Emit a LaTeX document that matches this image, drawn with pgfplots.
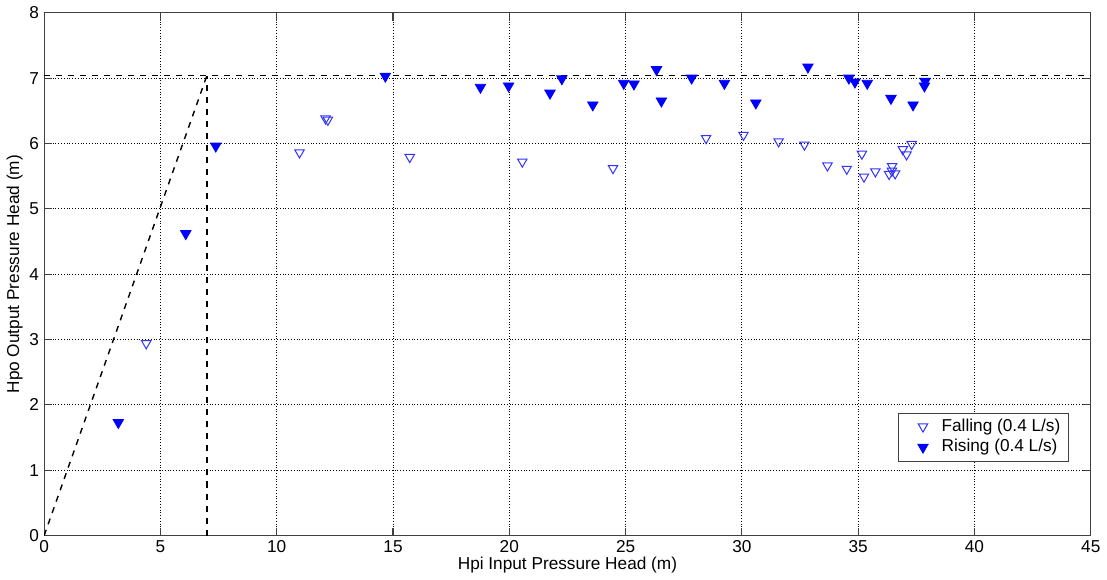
\documentclass[border=0pt]{standalone}
\usepackage{fontspec}
\setmainfont{Liberation Sans}
\usepackage{pgfplots}
\pgfplotsset{compat=1.18}

\begin{document}
\begin{tikzpicture}
\begin{axis}[
  scale only axis,
  width=522.5pt, height=261pt,
  xmin=0, xmax=45, ymin=0, ymax=8,
  xtick={0,5,...,45}, ytick={0,1,...,8},
  grid=major,
  major grid style={black, densely dotted, line width=0.4pt},
  tick align=inside,
  axis line style={draw=black!75, line width=0.6pt},
  tick style={draw=black!75, line width=0.6pt},
  major tick length=4pt,
  /pgf/number format/assume math mode=true,
  tick label style={font=\fontsize{8.6}{10}\selectfont},
  label style={font=\fontsize{8.6}{10}\selectfont},
  xticklabel style={yshift=1pt},
  yticklabel style={xshift=1pt},
  xlabel={Hpi Input Pressure Head (m)},
  ylabel={Hpo Output Pressure Head (m)},
  xlabel style={yshift=5pt},
  ylabel style={yshift=-3.5pt},
  legend style={at={(0.979,0.142)}, anchor=south east, draw=black!75,
    font=\fontsize{8.6}{10}\selectfont, cells={anchor=west},
    inner xsep=2pt, inner ysep=1pt, row sep=-1.5pt},
  legend cell align=left,
  legend image code/.code={
    \path (0cm,0cm) (0.6cm,0cm);
    \draw[#1,mark repeat=2,mark phase=2] plot coordinates {(0.1cm,0cm) (0.35cm,0cm) (0.6cm,0cm)};
  },
]
% reference lines
\addplot[black, dashed, line width=0.7pt, forget plot] coordinates {(0,7.04) (45,7.04)};
\addplot[black, dashed, line width=0.7pt, forget plot] coordinates {(0,0) (7,7.04)};
\addplot[black, dashed, line width=0.7pt, forget plot] coordinates {(7,0) (7,7.04)};

% falling (open)
\addplot[only marks, mark=triangle, mark size=2.7pt,
  mark options={rotate=180, draw=blue!80, line width=0.5pt, fill=none}]
coordinates {
(4.39,2.94) (10.98,5.86) (12.10,6.38) (12.20,6.36) (15.72,5.79) (20.56,5.72)
(24.46,5.62) (28.46,6.08) (30.07,6.13) (31.58,6.03) (32.69,5.98) (33.68,5.66)
(34.51,5.61) (35.16,5.84) (35.25,5.49) (35.74,5.57) (36.46,5.65) (36.33,5.53)
(36.59,5.54) (36.92,5.91) (37.08,5.83) (37.30,5.99) (36.45,5.58)
};
\addlegendentry{Falling (0.4 L/s)}

% rising (filled)
\addplot[only marks, mark=triangle*, mark size=3pt,
  mark options={rotate=180, draw=blue, fill=blue}]
coordinates {
(3.19,1.73) (6.09,4.62) (7.38,5.96) (14.67,7.03) (18.76,6.86) (19.97,6.88)
(21.75,6.77) (22.26,6.99) (23.59,6.59) (24.92,6.92) (25.36,6.91) (26.33,7.13)
(26.54,6.65) (27.84,7.00) (29.25,6.92) (30.60,6.62) (32.84,7.17) (34.60,7.00)
(34.86,6.94) (35.39,6.92) (36.41,6.69) (37.36,6.59) (37.88,6.95) (37.85,6.88)
};
\addlegendentry{Rising (0.4 L/s)}
\end{axis}
\end{tikzpicture}
\end{document}
